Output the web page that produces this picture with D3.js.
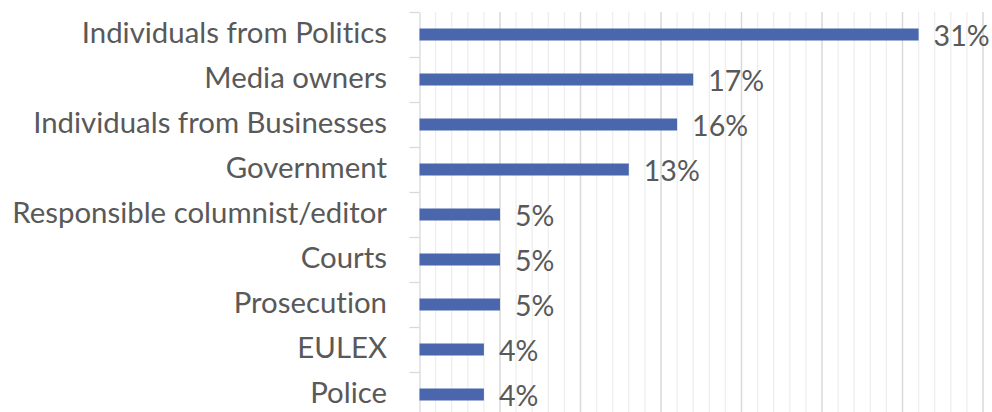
<!DOCTYPE html>
<html>
<head>
<meta charset="utf-8">
<script src="https://cdn.jsdelivr.net/npm/d3@7"></script>
<style>
  html, body { margin: 0; padding: 0; background: #ffffff; }
  svg { display: block; }
  text { font-family: Lato, "Open Sans", sans-serif; fill: #595959; font-variant-ligatures: none; }
</style>
</head>
<body>
<svg id="chart" width="992" height="412"></svg>
<script>
// Who exerts pressure on journalists (share of responses)
const categories = [
  "Individuals from Politics",
  "Media owners",
  "Individuals from Businesses",
  "Government",
  "Responsible columnist/editor",
  "Courts",
  "Prosecution",
  "EULEX",
  "Police"
];
const values = [31, 17, 16, 13, 5, 5, 5, 4, 4];
const xMax = 35;

const svg = d3.select("#chart");
const plot = { left: 419.5, right: 983, top: 12, bottom: 417 };

const x = d3.scaleLinear().domain([0, xMax]).range([plot.left, plot.right]);
const pad = 0.733;
const y = d3.scaleBand().domain(categories)
  .range([plot.top, plot.bottom])
  .paddingInner(pad).paddingOuter(pad / 2);

// gridlines: light every 1%, darker every 5%
const grid = svg.append("g");
grid.selectAll("line.minor")
  .data(d3.range(1, xMax + 1).filter(v => v % 5 !== 0))
  .join("line").attr("class", "minor")
  .attr("x1", d => x(d)).attr("x2", d => x(d))
  .attr("y1", plot.top).attr("y2", plot.bottom)
  .attr("stroke", "#eeeeee").attr("stroke-width", 1.3);
grid.selectAll("line.major")
  .data(d3.range(5, xMax + 1, 5))
  .join("line").attr("class", "major")
  .attr("x1", d => x(d)).attr("x2", d => x(d))
  .attr("y1", plot.top).attr("y2", plot.bottom)
  .attr("stroke", "#d9d9d9").attr("stroke-width", 1.5);

// category axis: line with ticks between bands
const edge = d3.scaleLinear().domain([0, categories.length]).range([plot.top, plot.bottom]);
const axis = svg.append("g")
  .attr("transform", `translate(${plot.left},0)`)
  .call(d3.axisLeft(edge).ticks(categories.length).tickSize(10).tickSizeOuter(0).tickFormat(""));
axis.selectAll("path, line").attr("stroke", "#d9d9d9").attr("stroke-width", 1.3);

// bars
svg.append("g").selectAll("rect")
  .data(categories)
  .join("rect")
  .attr("x", x(0))
  .attr("y", d => y(d))
  .attr("width", (d, i) => x(values[i]) - x(0))
  .attr("height", y.bandwidth())
  .attr("fill", "#4a66ac");

// category labels
const labels = svg.append("g").selectAll("text")
  .data(categories)
  .join("text")
  .attr("x", 387)
  .attr("y", d => y(d) + y.bandwidth() / 2 + 8.5)
  .attr("text-anchor", "end")
  .style("font-size", "26px")
  .text(d => d);

// fit label size so the longest label spans the space left of the axis
const longest = labels.filter(d => d === "Responsible columnist/editor").node();
const fs = 26 * 375 / longest.getComputedTextLength();
labels.style("font-size", fs + "px");

// value labels
const vals = svg.append("g").selectAll("text")
  .data(categories)
  .join("text")
  .attr("x", (d, i) => x(values[i]) + 15)
  .attr("y", d => y(d) + y.bandwidth() / 2 + 11)
  .style("font-size", "28px")
  .text((d, i) => values[i] + "%");

// size value labels so "31%" still fits before the right edge
const widest = vals.filter((d, i) => i === 0).node();
const vfs = 28 * 56 / widest.getComputedTextLength();
vals.style("font-size", vfs + "px");
</script>
</body>
</html>
